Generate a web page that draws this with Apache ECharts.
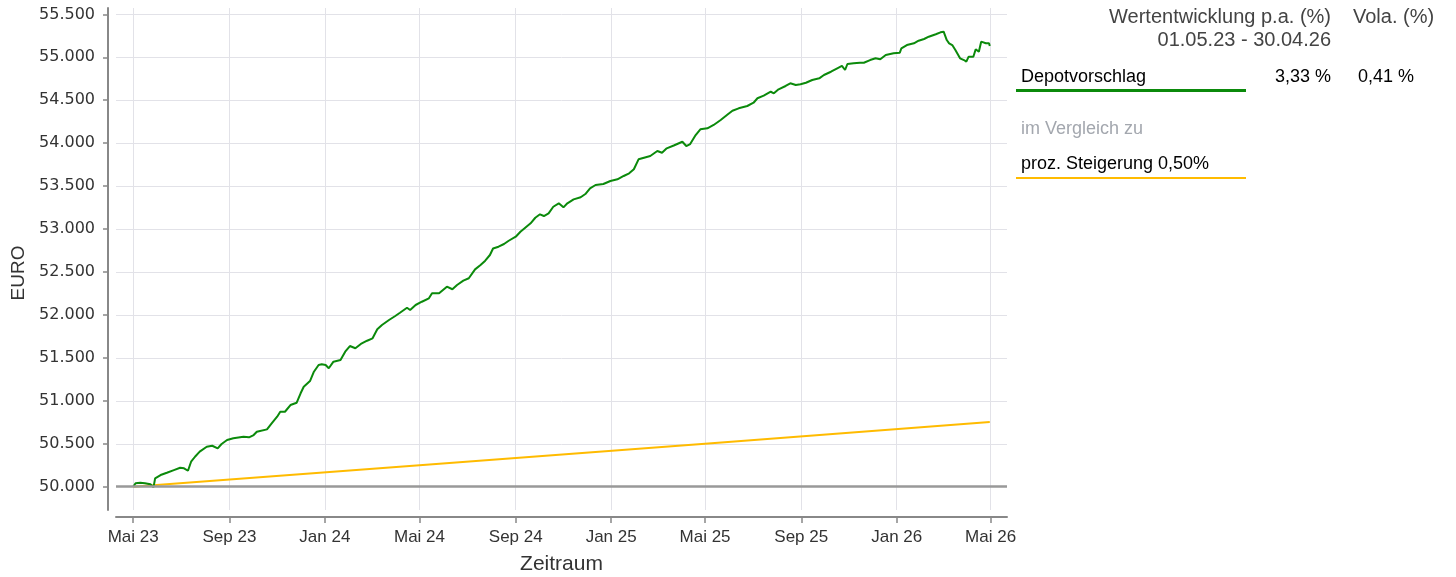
<!DOCTYPE html>
<html>
<head>
    <meta charset="utf-8">
    <title>Depotvorschlag - Wertentwicklung</title>
    <script src="https://cdn.jsdelivr.net/npm/echarts@6/dist/echarts.min.js"></script>
    <style>
        html, body { margin: 0; padding: 0; background: #fff; }
        #main { width: 1456px; height: 577px; }
    </style>
</head>
<body>
<div id="main"></div>
<script>
    // ---------------------------------  Daten -------------------------------------

    // Depotvorschlag
    var depotDates = [
        '2023-05-01', '2023-05-04', '2023-05-10', '2023-05-16', '2023-05-23', '2023-05-27', '2023-05-29', '2023-06-05',
        '2023-06-13', '2023-06-22', '2023-06-30', '2023-07-05', '2023-07-10', '2023-07-14', '2023-07-19', '2023-07-25',
        '2023-08-03', '2023-08-10', '2023-08-17', '2023-08-22', '2023-08-29', '2023-09-06', '2023-09-19', '2023-09-26',
        '2023-10-02', '2023-10-06', '2023-10-19', '2023-10-25', '2023-11-01', '2023-11-05', '2023-11-11', '2023-11-18',
        '2023-11-26', '2023-12-01', '2023-12-05', '2023-12-13', '2023-12-18', '2023-12-24', '2023-12-28', '2024-01-02',
        '2024-01-06', '2024-01-12', '2024-01-21', '2024-01-27', '2024-02-02', '2024-02-09', '2024-02-16', '2024-02-24',
        '2024-03-02', '2024-03-08', '2024-03-14', '2024-03-23', '2024-03-31', '2024-04-06', '2024-04-15', '2024-04-19',
        '2024-04-26', '2024-05-04', '2024-05-13', '2024-05-17', '2024-05-26', '2024-06-05', '2024-06-12', '2024-06-18',
        '2024-06-26', '2024-07-03', '2024-07-11', '2024-07-18', '2024-07-24', '2024-07-30', '2024-08-03', '2024-08-10',
        '2024-08-17', '2024-08-23', '2024-09-01', '2024-09-07', '2024-09-20', '2024-09-26', '2024-10-02', '2024-10-07',
        '2024-10-13', '2024-10-19', '2024-10-26', '2024-11-01', '2024-11-06', '2024-11-14', '2024-11-23', '2024-11-29',
        '2024-12-05', '2024-12-12', '2024-12-22', '2024-12-31', '2025-01-09', '2025-01-17', '2025-01-24', '2025-01-30',
        '2025-02-05', '2025-02-12', '2025-02-20', '2025-03-01', '2025-03-07', '2025-03-13', '2025-03-22', '2025-04-02',
        '2025-04-07', '2025-04-12', '2025-04-19', '2025-04-25', '2025-05-04', '2025-05-12', '2025-05-21', '2025-05-29',
        '2025-06-05', '2025-06-13', '2025-06-24', '2025-07-02', '2025-07-07', '2025-07-15', '2025-07-24', '2025-07-28',
        '2025-08-03', '2025-08-12', '2025-08-18', '2025-08-25', '2025-08-31', '2025-09-07', '2025-09-15', '2025-09-24',
        '2025-09-30', '2025-10-09', '2025-10-17', '2025-10-23', '2025-10-27', '2025-10-30', '2025-11-07', '2025-11-15',
        '2025-11-20', '2025-11-28', '2025-12-05', '2025-12-11', '2025-12-18', '2025-12-28', '2026-01-05', '2026-01-07',
        '2026-01-14', '2026-01-23', '2026-01-29', '2026-02-05', '2026-02-11', '2026-02-20', '2026-02-26', '2026-03-02',
        '2026-03-06', '2026-03-09', '2026-03-13', '2026-03-17', '2026-03-19', '2026-03-23', '2026-03-28', '2026-03-31',
        '2026-04-03', '2026-04-09', '2026-04-12', '2026-04-16', '2026-04-19', '2026-04-25', '2026-04-29', '2026-04-30'
    ];
    var depotValues = [
        50000, 50040, 50045, 50040, 50028, 49995, 50098, 50136,
        50163, 50194, 50221, 50214, 50186, 50291, 50349, 50408,
        50466, 50477, 50447, 50497, 50544, 50564, 50582, 50575,
        50602, 50640, 50668, 50738, 50815, 50873, 50873, 50951,
        50978, 51088, 51164, 51230, 51339, 51417, 51425, 51417,
        51379, 51456, 51475, 51572, 51638, 51612, 51662, 51700,
        51728, 51833, 51883, 51941, 51988, 52026, 52084, 52058,
        52116, 52154, 52194, 52252, 52252, 52329, 52299, 52349,
        52399, 52427, 52531, 52581, 52632, 52698, 52774, 52795,
        52826, 52864, 52911, 52969, 53067, 53132, 53172, 53152,
        53183, 53260, 53300, 53253, 53300, 53346, 53370, 53408,
        53475, 53513, 53525, 53560, 53579, 53618, 53649, 53696,
        53812, 53831, 53851, 53909, 53889, 53940, 53973, 54017,
        53967, 53990, 54095, 54162, 54173, 54212, 54270, 54328,
        54378, 54406, 54433, 54471, 54523, 54553, 54599, 54581,
        54627, 54666, 54697, 54678, 54686, 54704, 54736, 54755,
        54794, 54832, 54872, 54899, 54852, 54922, 54930, 54937,
        54937, 54968, 54988, 54977, 55027, 55047, 55054, 55105,
        55143, 55163, 55193, 55213, 55240, 55268, 55291, 55298,
        55201, 55163, 55143, 55085, 55105, 54988, 54968, 54949,
        55007, 55007, 55093, 55065, 55182, 55163, 55163, 55132
    ];

    // Vergleich: proz. Steigerung 0,50% p.a.
    var compareDates = ['2023-05-01', '2024-05-01', '2025-05-01', '2026-04-30'];
    var compareValues = [50000, 50250, 50501, 50753];

    // Achsen
    var xTickDates = ['2023-05-01', '2023-09-01', '2024-01-01', '2024-05-01', '2024-09-01',
        '2025-01-01', '2025-05-01', '2025-09-01', '2026-01-01', '2026-05-01'];
    var xTickLabels = ['Mai 23', 'Sep 23', 'Jan 24', 'Mai 24', 'Sep 24', 'Jan 25', 'Mai 25', 'Sep 25', 'Jan 26', 'Mai 26'];
    var yTicks = [50000, 50500, 51000, 51500, 52000, 52500, 53000, 53500, 54000, 54500, 55000, 55500];
    var xRange = ['2023-04-09', '2026-05-22'];
    var yRange = [49729, 55574];
    var baseValue = 50000;

    // ---------------------------------  Chart -------------------------------------

    function toTime(s) {
        var p = s.split('-');
        return new Date(+p[0], +p[1] - 1, +p[2]).getTime();
    }

    function zip(dates, values) {
        var out = [];
        for (var i = 0; i < dates.length; i++) {
            out.push([toTime(dates[i]), values[i]]);
        }
        return out;
    }

    function thousands(v) {
        return String(v).replace(/\B(?=(\d{3})+(?!\d))/g, '.');
    }

    var xTickValues = xTickDates.map(toTime);
    var font = '"Liberation Sans", Arial, sans-serif';

    var chart = echarts.init(document.getElementById('main'), null, {renderer: 'canvas'});

    var option = {
        animation: false,
        backgroundColor: '#ffffff',
        grid: {
            left: 116,
            right: 449,
            top: 8,
            bottom: 67,
            containLabel: false,
            outerBoundsMode: 'none'
        },
        xAxis: {
            type: 'value',
            min: toTime(xRange[0]),
            max: toTime(xRange[1]),
            offset: 7,
            name: 'Zeitraum',
            nameLocation: 'middle',
            nameGap: 37,
            nameTextStyle: {color: '#333', fontSize: 21, fontFamily: font},
            axisLine: {show: true, lineStyle: {color: '#888', width: 2}},
            axisTick: {show: true, customValues: xTickValues, length: 6, lineStyle: {color: '#888', width: 1.5}},
            axisLabel: {
                customValues: xTickValues,
                color: '#333',
                fontSize: 17,
                fontFamily: font,
                margin: 12,
                hideOverlap: false,
                formatter: function (v) {
                    var i = xTickValues.indexOf(v);
                    return i >= 0 ? xTickLabels[i] : '';
                }
            },
            splitLine: {show: true, lineStyle: {color: '#e2e2e8', width: 1}}
        },
        yAxis: {
            type: 'value',
            min: yRange[0],
            max: yRange[1],
            offset: 8,
            name: 'EURO',
            nameLocation: 'middle',
            nameGap: 80,
            nameRotate: 90,
            nameTextStyle: {color: '#333', fontSize: 19, fontFamily: font, padding: [0, 28, 0, 0]},
            axisLine: {show: true, lineStyle: {color: '#888', width: 2}},
            axisTick: {show: true, customValues: yTicks, length: 5, lineStyle: {color: '#888', width: 1.5}},
            axisLabel: {
                customValues: yTicks,
                color: '#333',
                fontSize: 16,
                fontFamily: '"DejaVu Sans", sans-serif',
                margin: 13,
                formatter: function (v) {
                    return thousands(v);
                }
            },
            splitLine: {show: true, lineStyle: {color: '#e2e2e8', width: 1}}
        },
        series: [
            {
                name: 'proz. Steigerung 0,50%',
                type: 'line',
                showSymbol: false,
                data: zip(compareDates, compareValues),
                lineStyle: {color: '#ffbb00', width: 2},
                itemStyle: {color: '#ffbb00'},
                z: 2
            },
            {
                name: 'Depotvorschlag',
                type: 'line',
                showSymbol: false,
                data: zip(depotDates, depotValues),
                lineStyle: {color: '#0b8a0b', width: 2},
                itemStyle: {color: '#0b8a0b'},
                z: 3,
                markLine: {
                    silent: true,
                    symbol: ['none', 'none'],
                    label: {show: false},
                    lineStyle: {color: '#999', width: 2.5, type: 'solid'},
                    data: [{yAxis: baseValue}],
                    z: 4
                }
            }
        ],
        graphic: [
            // abgeschnittenes Label am rechten Rand
            {type: 'rect', left: 1017, top: 524, shape: {width: 40, height: 26}, style: {fill: '#fff'}, z: 100},
            {type: 'text', right: 1456 - 1331, top: 7,
                style: {text: 'Wertentwicklung p.a. (%)', fill: '#444', font: '20px ' + font, textAlign: 'right'}},
            {type: 'text', right: 1456 - 1331, top: 30,
                style: {text: '01.05.23 - 30.04.26', fill: '#444', font: '20px ' + font, textAlign: 'right'}},
            {type: 'text', left: 1353, top: 7,
                style: {text: 'Vola. (%)', fill: '#444', font: '20px ' + font}},
            {type: 'text', left: 1021, top: 68,
                style: {text: 'Depotvorschlag', fill: '#000', font: '18px ' + font}},
            {type: 'text', right: 1456 - 1331, top: 68,
                style: {text: '3,33 %', fill: '#000', font: '18px ' + font, textAlign: 'right'}},
            {type: 'text', left: 1358, top: 68,
                style: {text: '0,41 %', fill: '#000', font: '18px ' + font}},
            {type: 'line', shape: {x1: 1016, y1: 90.5, x2: 1246, y2: 90.5}, style: {stroke: '#0b8a0b', lineWidth: 3}},
            {type: 'text', left: 1021, top: 120,
                style: {text: 'im Vergleich zu', fill: '#a3a7ae', font: '18px ' + font}},
            {type: 'text', left: 1021, top: 155,
                style: {text: 'proz. Steigerung 0,50%', fill: '#000', font: '18px ' + font}},
            {type: 'line', shape: {x1: 1016, y1: 178, x2: 1246, y2: 178}, style: {stroke: '#ffbb00', lineWidth: 2}}
        ]
    };

    chart.setOption(option);
</script>
</body>
</html>
